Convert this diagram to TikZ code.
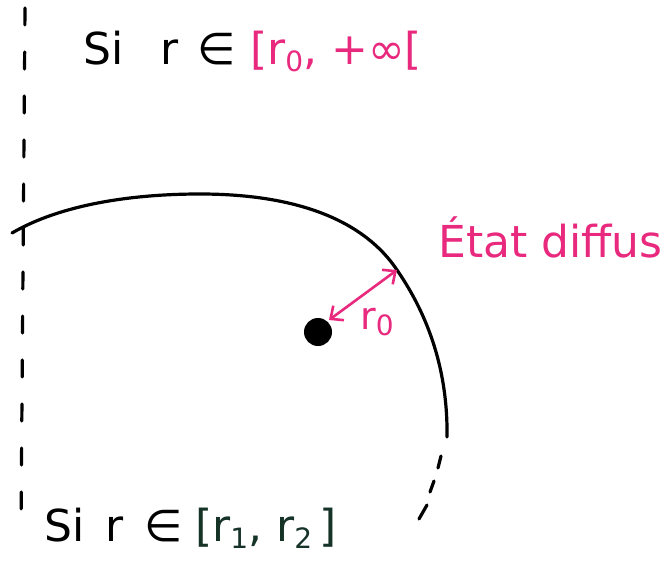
\documentclass[tikz,border=0pt]{standalone}
\usepackage{fontspec}
\setmainfont{DejaVu Sans}
\usetikzlibrary{arrows.meta}
\definecolor{pinkink}{HTML}{E8297E}
\definecolor{greenink}{HTML}{163328}
\tikzset{
  ink/.style={line width=3.2pt, line cap=round, black},
  hand/.style={font=\fontsize{44}{46}\selectfont, inner sep=0pt, anchor=base west},
  pinkarrow/.style={pinkink, line width=2.6pt, line cap=round, {Straight Barb[length=10pt,width=18pt]}-{Straight Barb[length=10pt,width=18pt]}},
  dot/.style={circle, fill=black, minimum size=28pt, inner sep=0pt}
}
\newcommand{\sub}[1]{\raisebox{-0.3ex}{\fontsize{28}{28}\selectfont #1}}
\begin{document}
\begin{tikzpicture}[x=1pt,y=-1pt]
\useasboundingbox (0,0) rectangle (667,562);
% dashed vertical line
\coordinate (vtop) at (25,8);
\coordinate (vbot) at (21,528);
\draw[ink, dash pattern=on 17pt off 27pt] (vtop) -- (vbot);
% main curve
\coordinate (k0) at (12,233);
\coordinate (k1) at (200,194);
\coordinate (k2) at (397,270);
\coordinate (k3) at (447,437);
\draw[ink] (k0) .. controls (60,205) and (130,194) .. (k1)
  .. controls (300,194) and (365,222) .. (k2)
  .. controls (428,315) and (448,370) .. (k3);
% dashed continuation
\coordinate (d1a) at (441,456); \coordinate (d1b) at (438,468);
\coordinate (d2a) at (434,481); \coordinate (d2b) at (430,492);
\coordinate (d3a) at (427,505); \coordinate (d3b) at (419,519);
\draw[ink] (d1a) -- (d1b);
\draw[ink] (d2a) -- (d2b);
\draw[ink] (d3a) -- (d3b);
% centre and radius arrow
\node[dot] (c) at (318,332) {};
\coordinate (a0) at (329,320);
\draw[pinkarrow] (a0) -- (k2);
\node[pinkink, font=\fontsize{38}{40}\selectfont, inner sep=0pt] (r0) at (377,322) {r\sub{0}};
% texts
\node[hand] (si1) at (83,64) {Si};
\node[hand] (r1) at (160,64) {r};
\node[hand] (in1) at (197,64) {∈};
\node[hand, pinkink] (int1) at (250,64) {[r\sub{0}, +∞[};
\node[hand, pinkink] (etat) at (438,257) {État diffus};
\node[hand] (si2) at (44,541) {Si};
\node[hand] (r2) at (105,541) {r};
\node[hand] (in2) at (144,541) {∈};
\node[hand, greenink] (int2) at (195,541) {[r\sub{1}, r\sub{2}\,]};
\end{tikzpicture}
\end{document}
